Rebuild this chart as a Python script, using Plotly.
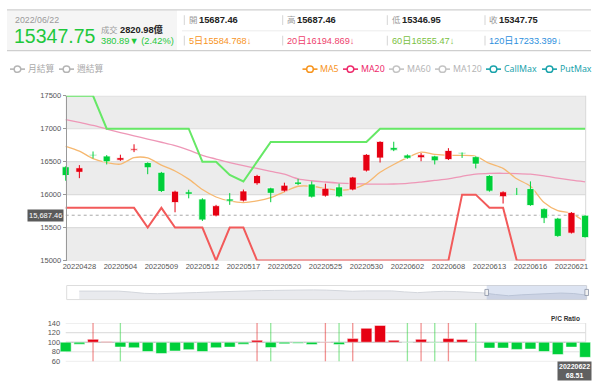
import plotly.graph_objects as go

W, H = 600, 383

# ---------------- data ----------------
dates = ["20220427", "20220428", "20220429", "20220503", "20220504", "20220505", "20220506",
         "20220509", "20220510", "20220511", "20220512", "20220513", "20220516", "20220517",
         "20220518", "20220519", "20220520", "20220523", "20220524", "20220525", "20220526",
         "20220527", "20220530", "20220531", "20220601", "20220602", "20220606", "20220607",
         "20220608", "20220609", "20220610", "20220613", "20220614", "20220615", "20220616",
         "20220617", "20220620", "20220621", "20220622"]

open_ = [16423, 16339, 16604, 16586, 16522, 16675, 16487, 16339, 15880, 16043, 15934, 15677, 15934,
         15904, 16166, 16102, 16053, 16191, 16161, 15978, 16117, 16072, 16359, 16556, 16714, 16601,
         16561, 16586, 16532, 16636, 16576, 16290, 15969, 16018, 16092, 15786, 15643, 15415, 15687.46]
high = [16430, 16448, 16655, 16600, 16606, 16764, 16490, 16345, 16060, 16074, 15945, 15845, 16023,
        16077, 16300, 16105, 16181, 16240, 16201, 16166, 16166, 16270, 16615, 16810, 16803, 16611,
        16631, 16590, 16705, 16640, 16580, 16295, 16050, 16102, 16201, 15790, 15648, 15735, 15687.46]
low = [16211, 16250, 16550, 16458, 16512, 16645, 16310, 16040, 15732, 15944, 15600, 15670, 15845,
       15895, 16150, 15885, 16045, 16145, 15955, 15970, 15960, 16065, 16350, 16487, 16660, 16545,
       16507, 16458, 16525, 16557, 16398, 16045, 15865, 15995, 15830, 15568, 15360, 15410, 15346.95]
close = [16290, 16408, 16590, 16498, 16561, 16696, 16408, 16048, 16053, 16006, 15616, 15832, 15901,
         16056, 16290, 16020, 16144, 16156, 15963, 16097, 15968, 16266, 16610, 16807, 16675, 16552,
         16605, 16513, 16670, 16621, 16463, 16053, 16043, 16000, 15835, 15641, 15366, 15728, 15347.75]

ma5 = [16734, 16660, 16547, 16487, 16463, 16561, 16556, 16448, 16359, 16235, 16077, 15964, 15904,
       15880, 15904, 15954, 16043, 16127, 16127, 16092, 16067, 16087, 16171, 16339, 16458, 16561,
       16645, 16611, 16596, 16596, 16581, 16473, 16398, 16240, 16127, 15880, 15756, 15717, 15585]
ma20 = [17139, 17095, 17050, 16995, 16942, 16892, 16843, 16795, 16744, 16675, 16596, 16540, 16487,
        16440, 16398, 16352, 16310, 16240, 16211, 16192, 16176, 16166, 16161, 16158, 16161, 16170,
        16191, 16215, 16240, 16278, 16310, 16322, 16324, 16320, 16310, 16285, 16250, 16220, 16195]
call_max = [17500, 17500, 17500, 17000, 17000, 17000, 17000, 17000, 17000, 17000, 16500, 16500, 16300,
            16200, 16500, 16800, 16800, 16800, 16800, 16800, 16800, 16800, 16800, 17000, 17000, 17000,
            17000, 17000, 17000, 17000, 17000, 17000, 17000, 17000, 17000, 17000, 17000, 17000, 17000]
put_max = [15800, 15800, 15800, 15800, 15800, 15800, 15500, 15800, 15500, 15500, 15500, 15000, 15500,
           15500, 15000, 15000, 15000, 15000, 15000, 15000, 15000, 15000, 15000, 15000, 15000, 15000,
           15000, 15000, 15000, 16000, 16000, 15800, 15800, 15000, 15000, 15000, 15000, 15000, 15000]

pc_ratio = [80, 96, 106, 101, 90, 88.5, 80.5, 76.5, 81.7, 84.5, 80.5, 88.6, 89.8, 96, 104, 89, 96.6,
            98, 95.3, 100.5, 95.3, 107.5, 129, 135, 104, 99.6, 106, 99, 107.5, 105.5, 98.7, 87.8,
            87.8, 85, 85.8, 80.5, 74.4, 89.8, 68.51]
red_marks = ["20220429", "20220518", "20220525", "20220527", "20220606", "20220608"]
green_marks = ["20220504", "20220519", "20220526", "20220602", "20220607", "20220610"]

nav_close = [16417, 16472, 16472, 16417, 16139, 15778, 15667, 15722, 15861, 16000, 16139, 16278,
             16417, 16500, 16556, 16611, 16694, 16722, 16750, 16694, 16528, 16361, 16472, 16528,
             16472, 16194, 15972, 16194, 16361, 16278, 16083, 15917, 15444, 15083, 15361, 15583,
             15778, 15861, 15722, 15250]

y_ticks = [15000, 15500, 16000, 16500, 17000, 17500]
pc_ticks = [60, 80, 100, 120, 140]
x_tick_dates = dates[1::3]
ref_price = 15687.46

hdr_date = "2022/06/22"
hdr_last = "15347.75"
hdr_volume = "2820.98億"
hdr_change = "380.89▼ (2.42%)"
hdr_ohlc_labels = ["開", "高", "低", "收"]
hdr_ohlc_values = ["15687.46", "15687.46", "15346.95", "15347.75"]
hdr_ma_texts = ["5日15584.768↓", "20日16194.869↓", "60日16555.47↓", "120日17233.399↓"]
pc_last_label = "20220622<br>68.51"

# ---------------- helpers ----------------
def px(x):
    return x / W


def py(y):
    return 1 - y / H


FONT = "Liberation Sans, Noto Sans CJK TC, sans-serif"
UP, DOWN = "#e60012", "#00cf3a"

X0, X1 = 65.7, 585.1
PL, PR = 65.7, 585.7
n = len(dates)
step = (X1 - X0) / (n - 1)
xdom = [px(X0 - 0.5 * step), px(X1 + 0.5 * step)]
xrng = [-0.5, n - 0.5]
ypos = px(65.7)

fig = go.Figure()

# main lines
fig.add_trace(go.Scatter(x=dates, y=ma20, mode="lines", line=dict(color="#ee97b7", width=1.3, shape="spline", smoothing=0.8),
                         xaxis="x", yaxis="y", hoverinfo="skip", cliponaxis=False))
fig.add_trace(go.Scatter(x=dates, y=ma5, mode="lines", line=dict(color="#f6b870", width=1.3, shape="spline", smoothing=0.8),
                         xaxis="x", yaxis="y", hoverinfo="skip", cliponaxis=False))
fig.add_trace(go.Scatter(x=dates, y=call_max, mode="lines", line=dict(color="#66e866", width=2),
                         xaxis="x", yaxis="y", hoverinfo="skip", cliponaxis=False))
fig.add_trace(go.Scatter(x=dates, y=put_max, mode="lines", line=dict(color="#f25a5a", width=2),
                         xaxis="x", yaxis="y", hoverinfo="skip", cliponaxis=False))

# candles on overlay axes (so they sit above the lines)
up_flags = [c > o for o, c in zip(open_, close)]
for flag, col in [(True, UP), (False, DOWN)]:
    xs, ys = [], []
    for d, h_, l_, f in zip(dates, high, low, up_flags):
        if f == flag:
            xs += [d, d, None]
            ys += [l_, h_, None]
    fig.add_trace(go.Scatter(x=xs, y=ys, mode="lines", line=dict(color=col, width=1),
                             xaxis="x5", yaxis="y5", hoverinfo="skip", cliponaxis=False))
body_base = [min(o, c) for o, c in zip(open_, close)]
body_h = [max(abs(c - o), 14) for o, c in zip(open_, close)]
fig.add_trace(go.Bar(x=dates, y=body_h, base=body_base, width=0.52,
                     marker=dict(color=[UP if f else DOWN for f in up_flags], line=dict(color="white", width=0.8)),
                     xaxis="x5", yaxis="y5", hoverinfo="skip"))

# P/C marker lines (base subplot) and bars (overlay subplot)
for marks, col in [(red_marks, "rgba(230,40,40,0.5)"), (green_marks, "rgba(40,210,60,0.5)")]:
    xs, ys = [], []
    for d in marks:
        xs += [d, d, None]
        ys += [pc_ticks[0], pc_ticks[-1], None]
    fig.add_trace(go.Scatter(x=xs, y=ys, mode="lines", line=dict(color=col, width=1.3),
                             xaxis="x2", yaxis="y2", hoverinfo="skip"))
fig.add_trace(go.Bar(x=dates, y=[v - 100 for v in pc_ratio], base=100, width=0.8,
                     marker=dict(color=[UP if v > 100 else DOWN for v in pc_ratio], line=dict(color="white", width=0.5)),
                     xaxis="x6", yaxis="y6", hoverinfo="skip"))

# navigator
fig.add_trace(go.Scatter(x=list(range(len(nav_close))), y=nav_close, mode="lines", fill="tozeroy",
                         line=dict(color="#d3d6dc", width=1), fillcolor="#e9eaee",
                         xaxis="x3", yaxis="y3", hoverinfo="skip"))

shapes = []
ann = []

# main bands & grid
for y0, y1 in [(17000, 17500), (16000, 16500), (15000, 15500)]:
    shapes.append(dict(type="rect", xref="paper", yref="y", x0=px(PL), x1=px(PR), y0=y0, y1=y1,
                       fillcolor="#ececec", line=dict(width=0), layer="below"))
for yv in y_ticks:
    shapes.append(dict(type="line", xref="paper", yref="y", x0=px(PL), x1=px(PR), y0=yv, y1=yv,
                       line=dict(color="#dcdcdc", width=1.2), layer="below"))
shapes.append(dict(type="line", xref="paper", yref="paper", x0=px(PR), x1=px(PR), y0=py(262.7), y1=py(94),
                   line=dict(color="#d8d8d8", width=1), layer="below"))
shapes.append(dict(type="line", xref="paper", yref="y", x0=px(PL), x1=px(PR), y0=ref_price, y1=ref_price,
                   line=dict(color="#a8a8a8", width=1, dash="dot"), layer="below"))
ann.append(dict(x=px(64.3), y=ref_price, xref="paper", yref="y", text="15,687.46", showarrow=False,
                xanchor="right", yanchor="middle", bgcolor="#5a5a5a", borderpad=1,
                font=dict(size=7.5, color="white", family=FONT)))

# P/C grid
for yv in pc_ticks:
    shapes.append(dict(type="line", xref="paper", yref="y2", x0=px(PL), x1=px(PR), y0=yv, y1=yv,
                       line=dict(color="#b0b0b0" if yv == 100 else "#e0e0e0", width=1.2 if yv == 120 else 1),
                       layer="below"))
shapes.append(dict(type="line", xref="paper", yref="y2", x0=px(PR), x1=px(PR), y0=100, y1=140,
                   line=dict(color="#dddddd", width=1), layer="below"))
ann.append(dict(x=px(582), y=py(322), xref="paper", yref="paper", text="<b>P/C Ratio</b>", showarrow=False,
                xanchor="right", yanchor="middle", font=dict(size=6.5, color="#333", family=FONT)))
ann.append(dict(x=px(574.5), y=py(375.5), xref="paper", yref="paper", text="<b>" + pc_last_label + "</b>",
                showarrow=False, xanchor="center", yanchor="middle", bgcolor="#606060", borderpad=1,
                font=dict(size=7, color="white", family=FONT)))

# navigator decorations
shapes.append(dict(type="rect", xref="paper", yref="paper", x0=px(66.7), x1=px(586.7), y0=py(302.7), y1=py(288.3),
                   line=dict(color="#dddddd", width=1), fillcolor="rgba(0,0,0,0)"))
shapes.append(dict(type="rect", xref="paper", yref="paper", x0=px(486.7), x1=px(586.7), y0=py(302.7), y1=py(288.3),
                   line=dict(width=0), fillcolor="rgba(102,133,194,0.22)"))
for hx in [486.7, 586.7]:
    shapes.append(dict(type="rect", xref="paper", yref="paper", x0=px(hx - 1.8), x1=px(hx + 1.8),
                       y0=py(298.5), y1=py(292.3), line=dict(color="#8a93a6", width=0.8), fillcolor="#f2f2f2"))


def text(x, y, s, size, color, bold=False, xanchor="left"):
    if bold:
        s = "<b>" + s + "</b>"
    ann.append(dict(x=px(x), y=py(y), xref="paper", yref="paper", text=s, showarrow=False,
                    xanchor=xanchor, yanchor="middle", font=dict(size=size, color=color, family=FONT)))


# header
shapes.append(dict(type="rect", xref="paper", yref="paper", x0=px(7), x1=px(177), y0=py(47.5), y1=py(6.5),
                   fillcolor="#f5f5f5", line=dict(width=0), layer="below"))
for yy in [6, 47.7]:
    shapes.append(dict(type="line", xref="paper", yref="paper", x0=px(7), x1=px(591), y0=py(yy), y1=py(yy),
                       line=dict(color="#cfcfcf", width=1.3)))
shapes.append(dict(type="line", xref="paper", yref="paper", x0=px(182), x1=px(591), y0=py(27.5), y1=py(27.5),
                   line=dict(color="#ececec", width=1)))
col_x = [184.3, 282.7, 387.3, 485]
for cx in col_x:
    for (a, b) in [(11.5, 21.5), (32.5, 42.5)]:
        shapes.append(dict(type="line", xref="paper", yref="paper", x0=px(cx), x1=px(cx), y0=py(a), y1=py(b),
                           line=dict(color="#d5d5d5", width=1)))

text(12.5, 16, hdr_date, 8.8, "#9a9a9a")
text(11.5, 33, hdr_last, 19.5, "#1ec83c")
text(99, 26.5, "成交", 8.3, "#9a9a9a")
text(117.5, 26.5, hdr_volume, 9.3, "#222", bold=True)
text(99, 38, hdr_change, 9.3, "#1ec83c")
for cx, lab, val in zip(col_x, hdr_ohlc_labels, hdr_ohlc_values):
    text(cx + 2.2, 16.5, lab, 8.5, "#9a9a9a")
    text(cx + 12.3, 16.5, val, 9.3, "#222", bold=True)
for cx, s, col in zip(col_x, hdr_ma_texts, ["#f7941d", "#ee3f6d", "#7ac143", "#2d8fdd"]):
    text(cx + 2.2, 37.5, s, 9.2, col)

# legend row
legend_items = [(10, "月結算", "#b5b5b5", "#aaaaaa"), (59, "週結算", "#b5b5b5", "#aaaaaa"),
                (302.5, "MA5", "#f7941d", "#f7941d"), (343, "MA20", "#ee2a6b", "#ee2a6b"),
                (389, "MA60", "#c4c4c4", "#b5b5b5"), (435, "MA120", "#c4c4c4", "#b5b5b5"),
                (486, "CallMax", "#1aa3ab", "#1aa3ab"), (542, "PutMax", "#1aa3ab", "#1aa3ab")]
LY = 66.7
for x0, lab, icol, tcol in legend_items:
    shapes.append(dict(type="line", xref="paper", yref="paper", x0=px(x0), x1=px(x0 + 15), y0=py(LY), y1=py(LY),
                       line=dict(color=icol, width=1.6)))
    shapes.append(dict(type="circle", xref="paper", yref="paper", x0=px(x0 + 4.2), x1=px(x0 + 10.8),
                       y0=py(LY + 3.3), y1=py(LY - 3.3), line=dict(color=icol, width=1.5), fillcolor="white"))
    fam = "Noto Sans, Noto Sans CJK TC, sans-serif"
    ann.append(dict(x=px(x0 + 15.5), y=py(LY), xref="paper", yref="paper", text=lab, showarrow=False,
                    xanchor="left", yanchor="middle", font=dict(size=8.8, color=tcol, family=fam)))

tickfont = dict(size=7.5, color="#555", family=FONT)
cat = dict(type="category", categoryorder="array", categoryarray=dates, range=xrng)
fig.update_layout(
    width=W, height=H, margin=dict(l=0, r=0, t=0, b=0), autosize=False,
    paper_bgcolor="white", plot_bgcolor="rgba(0,0,0,0)", showlegend=False, barmode="overlay",
    shapes=shapes, annotations=ann,
    xaxis=dict(domain=xdom, anchor="y", tickvals=x_tick_dates, ticktext=x_tick_dates,
               showgrid=False, showline=False, zeroline=False, ticks="", tickfont=tickfont, **cat),
    yaxis=dict(domain=[py(262.7), py(94)], range=[15000, 17500], anchor="free", position=ypos,
               tickvals=y_ticks, ticktext=[str(v) for v in y_ticks], showgrid=False, zeroline=False,
               showline=True, linecolor="#999", linewidth=1, ticks="outside", ticklen=3, tickcolor="#999",
               tickfont=tickfont),
    xaxis5=dict(overlaying="x", anchor="y5", visible=False, **cat),
    yaxis5=dict(overlaying="y", range=[15000, 17500], anchor="free", position=ypos, visible=False),
    xaxis2=dict(domain=xdom, anchor="y2", visible=False, **cat),
    yaxis2=dict(domain=[py(366), py(326.7)], range=[60, 140], anchor="free", position=ypos,
                tickvals=pc_ticks, ticktext=[str(v) for v in pc_ticks], showgrid=False, zeroline=False,
                showline=False, ticks="outside", ticklen=4, tickcolor="rgba(0,0,0,0)", tickfont=tickfont),
    xaxis6=dict(overlaying="x2", anchor="y6", visible=False, **cat),
    yaxis6=dict(overlaying="y2", range=[60, 140], anchor="free", position=ypos, visible=False),
    xaxis3=dict(domain=[px(66.7), px(586.7)], range=[-0.968, len(nav_close) - 1], anchor="y3", visible=False),
    yaxis3=dict(domain=[py(302.7), py(288.3)], range=[14000, 18000], anchor="x3", visible=False),
)

fig.write_html("out.html", config={"displayModeBar": False},
               post_script="document.body.style.margin='0';document.documentElement.style.overflow='hidden';")
